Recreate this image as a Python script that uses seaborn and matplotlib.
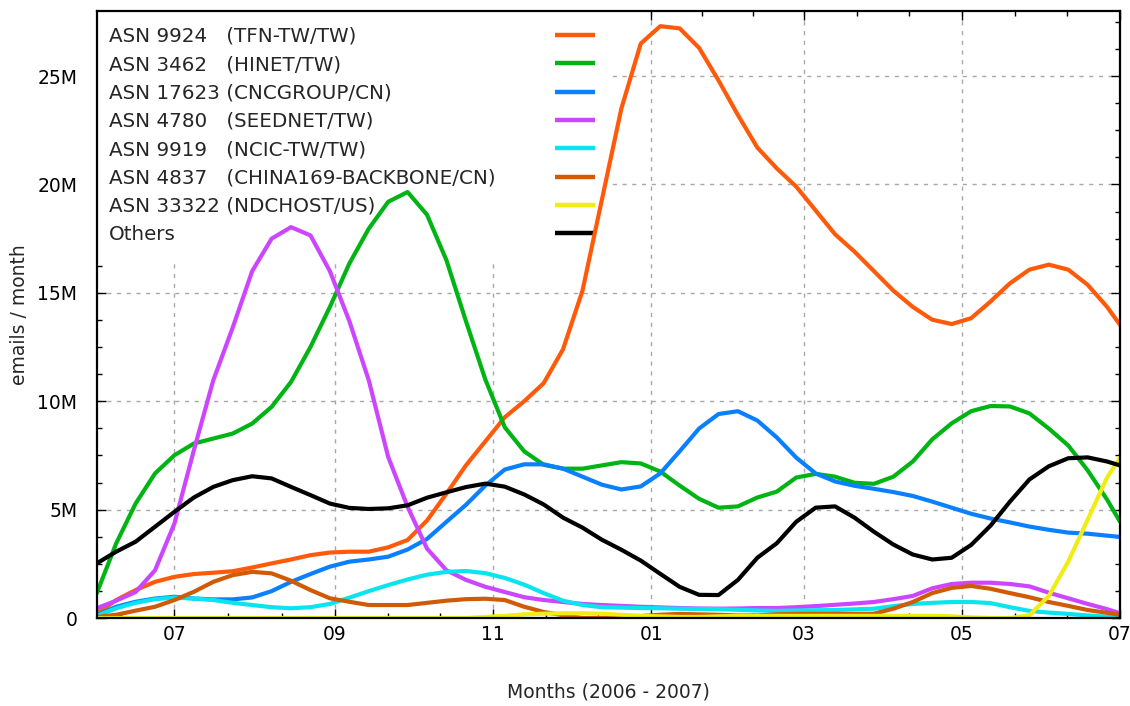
import numpy as np
import pandas as pd
import matplotlib
matplotlib.use("Agg")
import matplotlib.pyplot as plt
import seaborn as sns
from matplotlib.ticker import FixedLocator, FuncFormatter

# x positions: days since 2006-06-01 (every 7.5 days, last point = 2007-07-01)
days = [0, 7.5, 15, 22.5, 30, 37.5, 45, 52.5, 60, 67.5, 75, 82.5, 90, 97.5, 105, 112.5,
        120, 127.5, 135, 142.5, 150, 157.5, 165, 172.5, 180, 187.5, 195, 202.5, 210, 217.5,
        225, 232.5, 240, 247.5, 255, 262.5, 270, 277.5, 285, 292.5, 300, 307.5, 315, 322.5,
        330, 337.5, 345, 352.5, 360, 367.5, 375, 382.5, 390, 395]

# values in millions of emails / month
tfn = [0.2, 0.83, 1.29, 1.67, 1.9, 2.03, 2.09, 2.16, 2.33, 2.52, 2.7, 2.9, 3.02, 3.06, 3.06, 3.26,
       3.6, 4.5, 5.74, 7.04, 8.15, 9.26, 10.0, 10.83, 12.4, 15.1, 19.3, 23.5, 26.5, 27.3,
       27.2, 26.3, 24.8, 23.2, 21.7, 20.74, 19.9, 18.8, 17.7, 16.9, 16.0, 15.1, 14.35, 13.76,
       13.56, 13.83, 14.6, 15.44, 16.07, 16.3, 16.07, 15.37, 14.35, 13.52]
hinet = [1.14, 3.44, 5.28, 6.67, 7.51, 8.05, 8.28, 8.51, 8.97, 9.74, 10.89, 12.5, 14.35, 16.35, 17.96, 19.2,
         19.65, 18.6, 16.5, 13.7, 11.0, 8.8, 7.69, 7.07, 6.89, 6.89, 7.04, 7.19, 7.13, 6.76,
         6.11, 5.5, 5.09, 5.15, 5.56, 5.83, 6.48, 6.65, 6.52, 6.24, 6.19, 6.52, 7.22, 8.24,
         8.98, 9.54, 9.78, 9.76, 9.44, 8.74, 7.96, 6.81, 5.46, 4.44]
cnc = [0.14, 0.52, 0.75, 0.9, 0.98, 0.9, 0.86, 0.86, 0.95, 1.24, 1.67, 2.03, 2.37, 2.6, 2.7, 2.83,
       3.16, 3.65, 4.44, 5.22, 6.11, 6.85, 7.09, 7.09, 6.89, 6.52, 6.15, 5.93, 6.07, 6.67,
       7.69, 8.74, 9.41, 9.54, 9.11, 8.33, 7.4, 6.67, 6.3, 6.1, 5.96, 5.81, 5.63, 5.37,
       5.09, 4.81, 4.59, 4.41, 4.22, 4.07, 3.94, 3.89, 3.8, 3.74]
seednet = [0.45, 0.8, 1.2, 2.2, 4.36, 7.74, 10.97, 13.4, 16.0, 17.5, 18.03, 17.65, 16.0, 13.7, 10.97, 7.43,
           5.13, 3.2, 2.2, 1.76, 1.44, 1.2, 0.96, 0.83, 0.74, 0.65, 0.6, 0.56, 0.52, 0.49,
           0.46, 0.44, 0.43, 0.44, 0.46, 0.46, 0.5, 0.55, 0.61, 0.67, 0.74, 0.87, 1.02, 1.37,
           1.57, 1.63, 1.63, 1.57, 1.46, 1.17, 0.91, 0.65, 0.41, 0.22]
ncic = [0.1, 0.45, 0.7, 0.87, 0.94, 0.9, 0.83, 0.7, 0.6, 0.5, 0.45, 0.5, 0.65, 0.94, 1.24, 1.52,
        1.78, 2.0, 2.13, 2.17, 2.07, 1.85, 1.54, 1.15, 0.8, 0.6, 0.5, 0.48, 0.46, 0.45,
        0.43, 0.42, 0.41, 0.38, 0.35, 0.33, 0.35, 0.36, 0.37, 0.4, 0.43, 0.55, 0.65, 0.7,
        0.74, 0.74, 0.69, 0.5, 0.33, 0.25, 0.19, 0.12, 0.06, 0.0]
china169 = [0.05, 0.15, 0.34, 0.52, 0.83, 1.21, 1.67, 1.98, 2.13, 2.06, 1.72, 1.29, 0.91, 0.75, 0.6, 0.6,
            0.6, 0.7, 0.8, 0.87, 0.89, 0.83, 0.52, 0.28, 0.13, 0.0, 0.0, 0.02, 0.09, 0.15,
            0.19, 0.17, 0.15, 0.12, 0.12, 0.17, 0.19, 0.19, 0.19, 0.19, 0.2, 0.43, 0.74, 1.15,
            1.39, 1.48, 1.35, 1.15, 0.96, 0.74, 0.56, 0.37, 0.24, 0.15]
ndchost = [0.0, 0.0, 0.0, 0.0, 0.0, 0.0, 0.0, 0.0, 0.0, 0.0, 0.0, 0.0, 0.0, 0.0, 0.0, 0.0,
           0.0, 0.0, 0.0, 0.0, 0.05, 0.1, 0.17, 0.2, 0.22, 0.22, 0.2, 0.15, 0.1, 0.08,
           0.05, 0.05, 0.08, 0.1, 0.1, 0.1, 0.1, 0.1, 0.1, 0.1, 0.1, 0.1, 0.1, 0.1,
           0.08, 0.03, 0.0, 0.0, 0.13, 1.02, 2.6, 4.54, 6.48, 7.4]
others = [2.52, 3.06, 3.52, 4.21, 4.9, 5.56, 6.05, 6.36, 6.54, 6.44, 6.05, 5.67, 5.28, 5.08, 5.03, 5.06,
          5.2, 5.55, 5.8, 6.04, 6.2, 6.06, 5.7, 5.24, 4.63, 4.17, 3.61, 3.15, 2.65, 2.04,
          1.44, 1.07, 1.06, 1.76, 2.78, 3.45, 4.44, 5.09, 5.15, 4.63, 3.98, 3.39, 2.93, 2.7,
          2.78, 3.37, 4.26, 5.37, 6.39, 7.0, 7.37, 7.41, 7.22, 7.04]

labels = ["ASN 9924   (TFN-TW/TW)",
          "ASN 3462   (HINET/TW)",
          "ASN 17623 (CNCGROUP/CN)",
          "ASN 4780   (SEEDNET/TW)",
          "ASN 9919   (NCIC-TW/TW)",
          "ASN 4837   (CHINA169-BACKBONE/CN)",
          "ASN 33322 (NDCHOST/US)",
          "Others"]
colors = ["#ff5a0a", "#00b414", "#0a80ff", "#cc45ff", "#0ae4ee", "#d05a05", "#f0ec14", "#000000"]

month_ticks = [30, 92, 153, 214, 273, 334, 395]
month_labels = ["07", "09", "11", "01", "03", "05", "07"]
y_ticks = [0, 5, 10, 15, 20, 25]

series = [tfn, hinet, cnc, seednet, ncic, china169, ndchost, others]
frames = []
for lab, vals in zip(labels, series):
    frames.append(pd.DataFrame({"day": days, "value": vals, "asn": lab}))
df = pd.concat(frames, ignore_index=True)

sns.set_theme(style="ticks")
plt.rcParams["font.family"] = ["DejaVu Sans"]
fs = 13.5
lfs = 14.3

fig = plt.figure(figsize=(11.3, 7.06), dpi=100)
ax = fig.add_axes([0.0856, 0.1246, 0.9056, 0.8598])

sns.lineplot(data=df, x="day", y="value", hue="asn", hue_order=labels,
             palette=dict(zip(labels, colors)), linewidth=3.0, legend=False,
             ax=ax, sort=True)
for ln in ax.lines:
    ln.set_solid_capstyle("round")
    ln.set_solid_joinstyle("round")
    ln.set_zorder(3)

ax.set_xlim(0, 395)
ax.set_ylim(0, 28)

ax.xaxis.set_major_locator(FixedLocator(month_ticks))
ax.set_xticklabels(month_labels)
minor_x = []
for a, b in zip([-32] + month_ticks[:-1], month_ticks):
    minor_x += [a + (b - a) / 3.0, a + 2 * (b - a) / 3.0]
ax.xaxis.set_minor_locator(FixedLocator([m for m in minor_x if 0 < m < 395]))
ax.yaxis.set_major_locator(FixedLocator(y_ticks))
ax.yaxis.set_minor_locator(FixedLocator(list(np.arange(0, 28.01, 1.25))))
ax.yaxis.set_major_formatter(FuncFormatter(lambda v, p: "0" if v == 0 else f"{int(round(v))}M"))

ax.tick_params(which="both", direction="in", top=True, right=True, colors="black",
               labelsize=fs, width=1.0)
ax.tick_params(which="major", length=6.5)
ax.tick_params(which="minor", length=3.5)
ax.tick_params(axis="y", which="major", pad=14)
ax.tick_params(axis="x", which="major", pad=5)

for sp in ax.spines.values():
    sp.set_linewidth(1.6)
    sp.set_color("black")
    sp.set_zorder(4)

ax.set_axisbelow(True)
ax.grid(True, which="major", color="#a8a8a8", linestyle=(0, (3, 4)), linewidth=1.0)

ax.set_xlabel("Months (2006 - 2007)", fontsize=fs, labelpad=28)
ax.set_ylabel("emails / month", fontsize=fs, labelpad=6)

leg = ax.legend(handles=list(ax.lines[:8]), labels=labels, loc="upper left",
                bbox_to_anchor=(-0.0035, 1), borderaxespad=0, frameon=True,
                facecolor="white", edgecolor="none", framealpha=1, fancybox=False,
                markerfirst=False, handlelength=2.0, handletextpad=3.0,
                labelspacing=0.47, borderpad=0.8, fontsize=lfs)
leg.set_zorder(1.5)
for h in leg.get_lines():
    h.set_linewidth(3.2)
    h.set_solid_capstyle("butt")

# left-align the label texts while keeping the line samples in one column
fig.canvas.draw()
renderer = fig.canvas.get_renderer()
widths = [t.get_window_extent(renderer).width for t in leg.get_texts()]
wmax = max(widths)
column = leg._legend_handle_box.get_children()[0]
column.align = "left"
for row, w in zip(column.get_children(), widths):
    row.sep = row.sep + (wmax - w) * 72.0 / fig.dpi

fig.savefig("out.png", dpi=100)
